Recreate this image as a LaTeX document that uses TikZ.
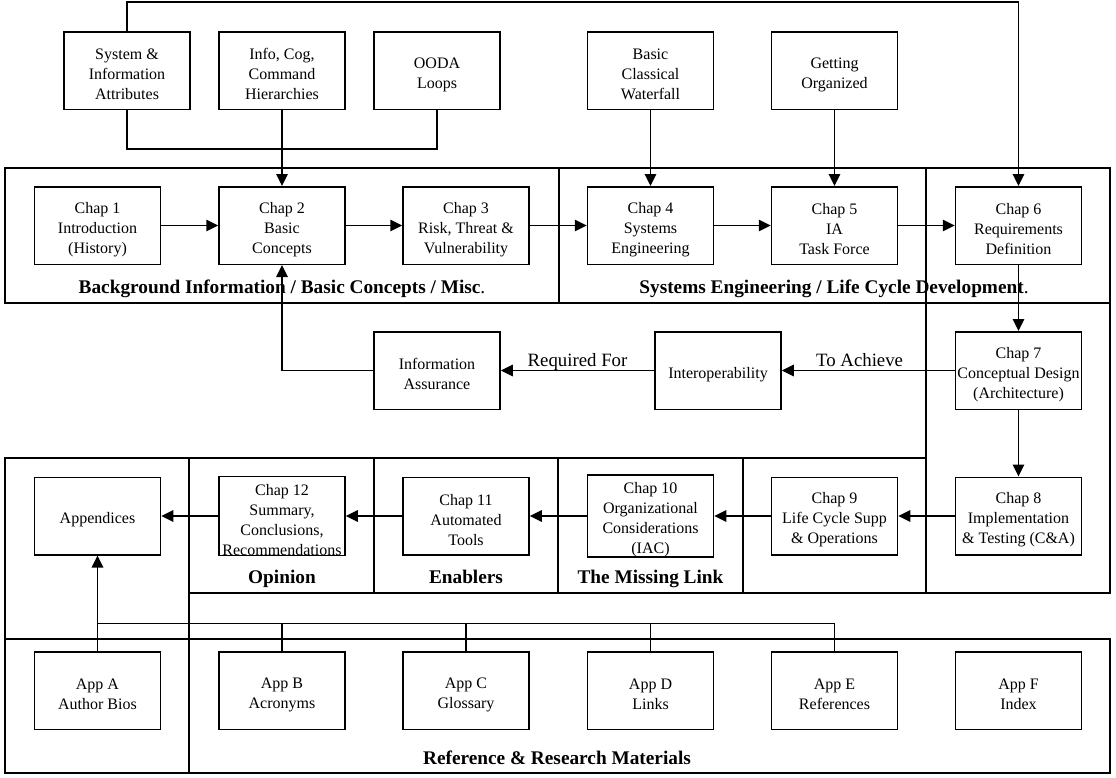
\documentclass[tikz,border=0pt]{standalone}
\usepackage{fontspec}
\setmainfont{Liberation Serif}
\usetikzlibrary{arrows.meta}
% extra head room on the first line of a box text, sets the text a little low
\newcommand\lift{\rule{0pt}{19pt}}
\begin{document}
\begin{tikzpicture}[x=1pt,y=-1pt,
  box/.style={draw, line width=1.5pt, minimum width=126pt, minimum height=77.5pt,
    inner sep=0pt, align=center, font=\fontsize{16}{20}\selectfont},
  frame/.style={draw, line width=1.5pt},
  wire/.style={line width=1.5pt},
  link/.style={line width=1.5pt, -{Triangle[length=12pt,width=11.5pt]}},
  heading/.style={font=\fontsize{19.3}{22}\selectfont\bfseries, anchor=base, inner sep=0pt},
  flowlabel/.style={font=\fontsize{18.8}{22}\selectfont, anchor=base, inner sep=0pt, yshift=4.5pt}]
\useasboundingbox[fill=white] (0,0) rectangle (1116,777);

% section frames
\draw[frame] (5,168) rectangle (559,303);
\draw[frame] (559,168) rectangle (1110,303);
\draw[frame] (926,168) rectangle (1110,593);
\draw[frame] (189,458) rectangle (374,593);
\draw[frame] (374,458) rectangle (558,593);
\draw[frame] (558,458) rectangle (743,593);
\draw[frame] (743,458) rectangle (926,593);
\draw[frame] (5,458) rectangle (189,639);
\draw[frame] (5,639) rectangle (1110,773);
\draw[frame] (189,639) -- (189,773);

% section headings
\node[heading] at (282,293) {Background Information / Basic Concepts / Misc{\mdseries.}};
\node[heading] at (834,293) {Systems Engineering / Life Cycle Development{\mdseries.}};
\node[heading] at (282,583) {Opinion};
\node[heading] at (466,583) {Enablers};
\node[heading] at (650.5,583) {The Missing Link};
\node[heading] at (557,764) {Reference \& Research Materials};

% supporting topics
\node[box] (sys)  at (127,70.5)   {\lift System \&\\Information\\Attributes};
\node[box] (icc)  at (282,70.5)   {\lift Info, Cog,\\Command\\Hierarchies};
\node[box] (ooda) at (437,70.5)   {\lift OODA\\Loops};
\node[box] (bcw)  at (650.5,70.5) {\lift Basic\\Classical\\Waterfall};
\node[box] (gorg) at (834.5,70.5) {\lift Getting\\Organized};

% chapters 1-6
\node[box] (c1) at (97.5,225.5)   {\lift Chap 1\\Introduction\\(History)};
\node[box] (c2) at (282,225.5)    {\lift Chap 2\\Basic\\Concepts};
\node[box] (c3) at (466,225.5)    {\lift Chap 3\\Risk, Threat \&\\Vulnerability};
\node[box] (c4) at (650.5,225.5)  {\lift Chap 4\\Systems\\Engineering};
\node[box] (c5) at (834.5,225.5)  {\lift Chap 5\\IA\\Task Force};
\node[box] (c6) at (1018.5,225.5) {\lift Chap 6\\Requirements\\Definition};

% middle row
\node[box] (ia)  at (437,370.5)    {\lift Information\\Assurance};
\node[box] (iop) at (718,370.5)    {\lift Interoperability};
\node[box] (c7)  at (1018.5,370.5) {\lift Chap 7\\Conceptual Design\\(Architecture)};

% chapters 8-12 and appendices
\node[box] (apx) at (97.5,516)   {\lift Appendices};
\node[box] (c12) at (282,516)    {\lift Chap 12\\Summary,\\Conclusions,\\Recommendations};
\node[box] (c11) at (466,516)    {\lift Chap 11\\Automated\\Tools};
\node[box] (c10) at (650.5,516)  {\lift Chap 10\\Organizational\\Considerations\\(IAC)};
\node[box] (c9)  at (834.5,516)  {\lift Chap 9\\Life Cycle Supp\\\& Operations};
\node[box] (c8)  at (1018.5,516) {\lift Chap 8\\Implementation\\\& Testing (C\&A)};

\node[box] (appa) at (97.5,690.5)   {\lift App A\\Author Bios};
\node[box] (appb) at (282,690.5)    {\lift App B\\Acronyms};
\node[box] (appc) at (466,690.5)    {\lift App C\\Glossary};
\node[box] (appd) at (650.5,690.5)  {\lift App D\\Links};
\node[box] (appe) at (834.5,690.5)  {\lift App E\\References};
\node[box] (appf) at (1018.5,690.5) {\lift App F\\Index};

% connectors: top row
\draw[link] (sys.north) -- ++(0,-29) -| (c6.north);
\draw[wire] (sys.south) -- ++(0,39) -| (ooda.south);
\draw[link] (icc.south) -- (c2.north);
\draw[link] (bcw.south) -- (c4.north);
\draw[link] (gorg.south) -- (c5.north);

% chapter chain
\draw[link] (c1.east) -- (c2.west);
\draw[link] (c2.east) -- (c3.west);
\draw[link] (c3.east) -- (c4.west);
\draw[link] (c4.east) -- (c5.west);
\draw[link] (c5.east) -- (c6.west);
\draw[link] (c6.south) -- (c7.north);
\draw[link] (c7.south) -- (c8.north);
\draw[link] (c8.west) -- (c9.east);
\draw[link] (c9.west) -- (c10.east);
\draw[link] (c10.west) -- (c11.east);
\draw[link] (c11.west) -- (c12.east);
\draw[link] (c12.west) -- (apx.east);

% middle row flow
\draw[link] (c7.west) -- node[flowlabel, pos=0.55] {To Achieve} (iop.east);
\draw[link] (iop.west) -- node[flowlabel, pos=0.5] {Required For} (ia.east);
\draw[link] (ia.west) -| (c2.south);

% appendix bus
\coordinate (bus) at (97.5,623.5);
\draw[link] (appa.north) -- (apx.south);
\draw[wire] (appe.north) |- (bus);
\draw[wire] (appb.north) -- (appb.north |- bus);
\draw[wire] (appc.north) -- (appc.north |- bus);
\draw[wire] (appd.north) -- (appd.north |- bus);
\end{tikzpicture}
\end{document}
